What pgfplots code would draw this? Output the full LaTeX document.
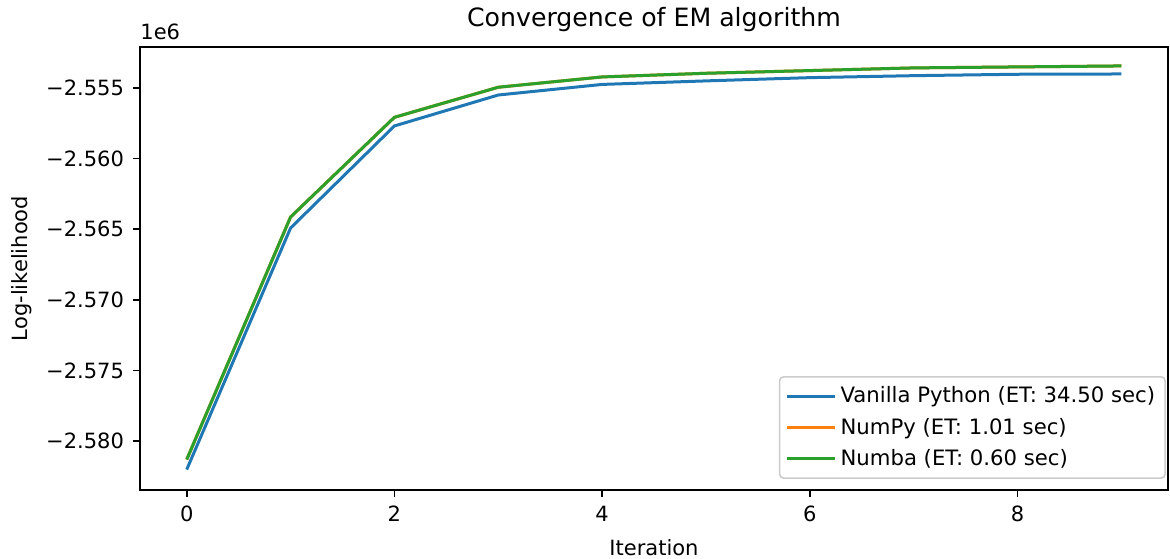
\documentclass[border=0pt]{standalone}
\usepackage{pgfplots}
\pgfplotsset{compat=1.18}
\usepackage{fontspec}
\setmainfont{DejaVu Sans}
\definecolor{tabblue}{HTML}{1F77B4}
\definecolor{taborange}{HTML}{FF7F0E}
\definecolor{tabgreen}{HTML}{2CA02C}
\begin{document}
\begin{tikzpicture}
\useasboundingbox (-70pt,-34pt) rectangle (515pt,245pt);
\begin{axis}[
  at={(0,0)}, anchor=south west,
  scale only axis,
  width=514pt, height=221.5pt,
  xmin=-0.45, xmax=9.45,
  ymin=-2.58347, ymax=-2.55210,
  xtick={0,2,4,6,8},
  ytick={-2.580,-2.575,-2.570,-2.565,-2.560,-2.555},
  yticklabels={−2.580,−2.575,−2.570,−2.565,−2.560,−2.555},
  /pgf/number format/assume math mode=true,
  tick align=outside,
  major tick length=3.5pt,
  tick style={line width=0.8pt, black},
  axis line style={line width=0.8pt},
  xtick pos=bottom, ytick pos=left,
  ticklabel style={font=\fontsize{10.5}{12.6}\selectfont},
  xticklabel style={yshift=-1pt},
  yticklabel style={xshift=-1pt},
  xlabel={Iteration},
  ylabel={Log-likelihood},
  label style={font=\fontsize{10.5}{12.6}\selectfont},
  xlabel style={yshift=-2pt},
  ylabel style={yshift=0.5pt},
  title={Convergence of EM algorithm},
  title style={font=\fontsize{12.6}{15}\selectfont, yshift=-2pt},
  legend style={font=\fontsize{10.6}{12.6}\selectfont, draw=black!20, rounded corners=2pt, line width=0.8pt, at={(0.998,0.025)}, anchor=south east, inner xsep=3pt, inner ysep=3pt, row sep=2pt, /tikz/every even column/.style={column sep=0pt}},
  legend cell align=left,
  legend image code/.code={\draw[#1] (0pt,0pt) -- (24pt,0pt);},
]
\addplot[tabblue, line width=1.5pt] coordinates {
(0,-2.58202) (1,-2.56492) (2,-2.55769) (3,-2.55550) (4,-2.55475)
(5,-2.55450) (6,-2.55427) (7,-2.55413) (8,-2.55403) (9,-2.55401)
};
\addlegendentry{Vanilla Python (ET: 34.50 sec)}
\addplot[taborange, line width=1.5pt] coordinates {
(0,-2.58131) (1,-2.56414) (2,-2.55708) (3,-2.55495) (4,-2.55422)
(5,-2.55396) (6,-2.55377) (7,-2.55358) (8,-2.55351) (9,-2.55344)
};
\addlegendentry{NumPy (ET: 1.01 sec)}
\addplot[tabgreen, line width=1.5pt] coordinates {
(0,-2.58131) (1,-2.56414) (2,-2.55708) (3,-2.55495) (4,-2.55422)
(5,-2.55396) (6,-2.55377) (7,-2.55358) (8,-2.55351) (9,-2.55344)
};
\addlegendentry{Numba (ET: 0.60 sec)}
\end{axis}
\node[anchor=south west, font=\fontsize{10.5}{12.6}\selectfont, inner sep=0pt] at (0pt,225pt) {1e6};
\end{tikzpicture}
\end{document}
